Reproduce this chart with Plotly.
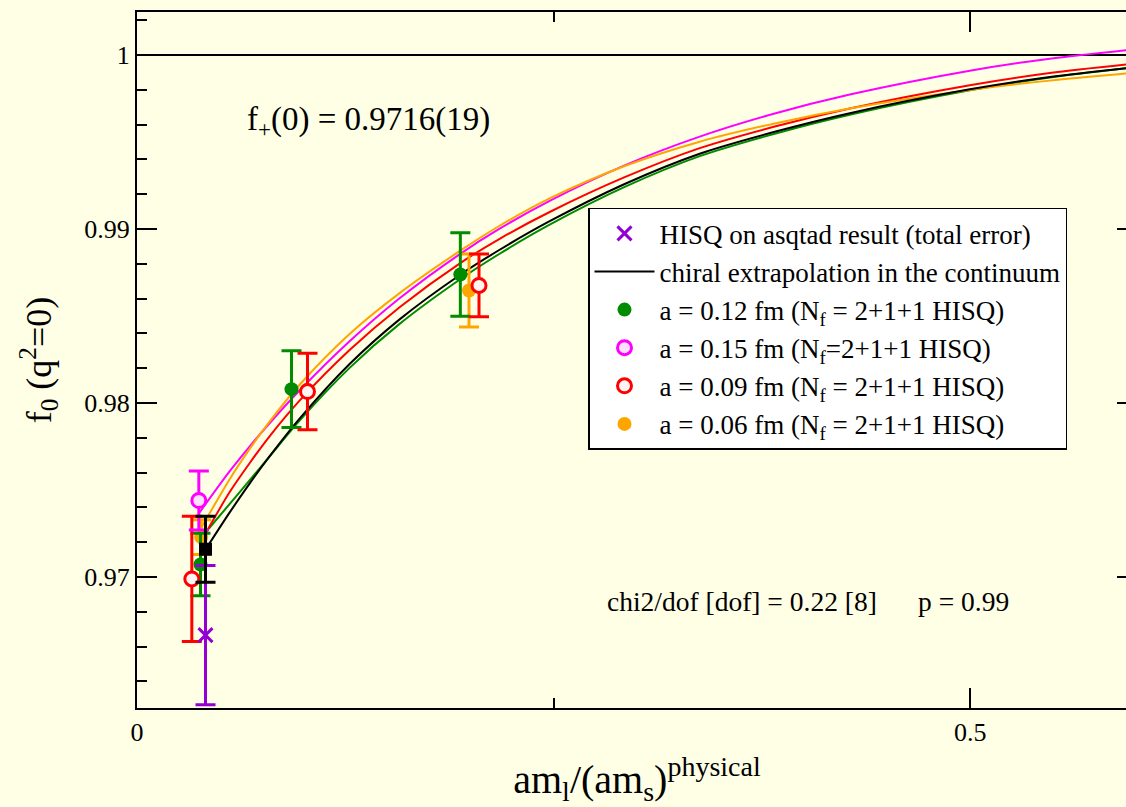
import plotly.graph_objects as go

# ---------------- data ----------------
# continuum chiral extrapolation (black) and per-lattice-spacing fit curves
curve_black_x = [0.04112, 0.05552, 0.06753, 0.07953, 0.09754, 0.12755, 0.15756, 0.19418, 0.21759,
                 0.24760, 0.29262, 0.33763, 0.38265, 0.42767, 0.49970, 0.54772, 0.60000]
curve_black_y = [0.97158, 0.97370, 0.97537, 0.97693, 0.97910, 0.98224, 0.98481, 0.98739, 0.98881,
                 0.99045, 0.99259, 0.99433, 0.99559, 0.99666, 0.99803, 0.99874, 0.99931]

curve_green_x = [0.03932, 0.05552, 0.06753, 0.07953, 0.09754, 0.12755, 0.15756, 0.19418, 0.21759,
                 0.24760, 0.29262, 0.33763, 0.38265, 0.42767, 0.49970, 0.54772, 0.60000]
curve_green_y = [0.97236, 0.97419, 0.97556, 0.97693, 0.97899, 0.98202, 0.98455, 0.98713, 0.98858,
                 0.99025, 0.99242, 0.99419, 0.99548, 0.99657, 0.99797, 0.99871, 0.99931]

curve_red_x = [0.03752, 0.05552, 0.06753, 0.07953, 0.09754, 0.12755, 0.15756, 0.19418, 0.21759,
               0.24760, 0.29262, 0.33763, 0.38265, 0.42767, 0.49970, 0.54772, 0.60000]
curve_red_y = [0.97190, 0.97487, 0.97654, 0.97809, 0.98014, 0.98305, 0.98551, 0.98806, 0.98944,
               0.99098, 0.99298, 0.99465, 0.99589, 0.99693, 0.99827, 0.99897, 0.99952]

curve_magenta_x = [0.03752, 0.05552, 0.06753, 0.07953, 0.09754, 0.12755, 0.15756, 0.19418, 0.21759,
                   0.24760, 0.29262, 0.33763, 0.38265, 0.42767, 0.49970, 0.54772, 0.60000]
curve_magenta_y = [0.97371, 0.97607, 0.97750, 0.97884, 0.98072, 0.98355, 0.98602, 0.98859, 0.99002,
                   0.99162, 0.99366, 0.99531, 0.99664, 0.99773, 0.99910, 0.99979, 1.00034]

curve_orange_x = [0.03529, 0.05552, 0.06753, 0.07953, 0.09754, 0.12755, 0.15756, 0.19418, 0.21759,
                  0.24760, 0.29262, 0.33763, 0.38265, 0.42767, 0.49970, 0.54772, 0.60000]
curve_orange_y = [0.97229, 0.97561, 0.97735, 0.97893, 0.98105, 0.98397, 0.98632, 0.98877, 0.99019,
                  0.99176, 0.99362, 0.99502, 0.99607, 0.99693, 0.99799, 0.99853, 0.99899]

# lattice data points
hisq_asqtad_x = [0.0411]
hisq_asqtad_y = [0.96666]
hisq_asqtad_err = [0.0040]

phys_x = [0.0411]
phys_y = [0.9716]
phys_err = [0.0019]

a012_x = [0.0381, 0.0927, 0.1940]
a012_y = [0.97072, 0.98080, 0.98739]
a012_err = [0.0018, 0.0022, 0.0024]

a015_x = [0.0371]
a015_y = [0.97440]
a015_err = [0.0017]

a009_x = [0.0329, 0.1023, 0.2052]
a009_y = [0.96989, 0.98066, 0.98676]
a009_err = [0.0036, 0.0022, 0.0018]

a006_x = [0.0385, 0.1992]
a006_y = [0.97230, 0.98647]
a006_err = [0.0010, 0.0021]

FONT = "Liberation Serif"
BG = "#FFFFE6"
GREEN = "#008B00"
PURPLE = "#9400D3"

fig = go.Figure()

# fit curves (no legend except the continuum one)
for cx, cy, col, name, show, rank in [
    (curve_green_x, curve_green_y, GREEN, "g", False, 100),
    (curve_red_x, curve_red_y, "#FF0000", "r", False, 100),
    (curve_magenta_x, curve_magenta_y, "#FF00FF", "m", False, 100),
    (curve_orange_x, curve_orange_y, "#FFA500", "o", False, 100),
    (curve_black_x, curve_black_y, "black", "chiral extrapolation in the continuum", True, 2),
]:
    fig.add_trace(go.Scatter(
        x=cx, y=cy, mode="lines", name=name, showlegend=show, legendrank=rank,
        line=dict(color=col, width=2, shape="spline", smoothing=0.8),
        hoverinfo="skip"))


def pts(x, y, err, name, marker, ecol, rank, show=True):
    fig.add_trace(go.Scatter(
        x=x, y=y, mode="markers", name=name, showlegend=show, legendrank=rank,
        marker=marker,
        error_y=dict(type="data", array=err, visible=True, color=ecol, thickness=3, width=10)))


pts(a006_x, a006_y, a006_err, "a = 0.06 fm (N<sub>f</sub> = 2+1+1 HISQ)",
    dict(symbol="circle", size=14, color="#FFA500", line=dict(width=0)), "#FFA500", 6)
pts(a012_x, a012_y, a012_err, "a = 0.12 fm (N<sub>f</sub> = 2+1+1 HISQ)",
    dict(symbol="circle", size=14, color=GREEN, line=dict(width=0)), GREEN, 3)
pts(a009_x, a009_y, a009_err, "a = 0.09 fm (N<sub>f</sub> = 2+1+1 HISQ)",
    dict(symbol="circle", size=14, color="#FFF4F4", line=dict(color="#FF0000", width=3)), "#FF0000", 5)
pts(a015_x, a015_y, a015_err, "a = 0.15 fm (N<sub>f</sub>=2+1+1 HISQ)",
    dict(symbol="circle", size=14, color="#FFE0FF", line=dict(color="#FF00FF", width=3)), "#FF00FF", 4)
pts(hisq_asqtad_x, hisq_asqtad_y, hisq_asqtad_err, "HISQ on asqtad result (total error)",
    dict(symbol="x-thin", size=14, color=PURPLE, line=dict(color=PURPLE, width=3)), PURPLE, 1)
pts(phys_x, phys_y, phys_err, "continuum",
    dict(symbol="square", size=13, color="black"), "black", 100, show=False)

YR = [0.962474, 1.002474]
XR = [0.0, 0.6]

fig.update_layout(
    width=1150, height=807,
    margin=dict(l=137, r=13, t=10, b=97),
    paper_bgcolor=BG, plot_bgcolor=BG,
    font=dict(family=FONT, color="black", size=26),
    xaxis=dict(range=XR, tick0=0, dtick=0.5, ticks="inside", ticklen=20, tickwidth=2,
               tickcolor="black", showline=True, linecolor="black", linewidth=2,
               mirror="ticks", showgrid=False, zeroline=False,
               minor=dict(dtick=0.25, ticks="inside", ticklen=10, tickwidth=2, tickcolor="black"),
               tickfont=dict(family=FONT, size=26),
               title=dict(text="am<sub>l</sub>/(am<sub>s</sub>)<sup>physical</sup>",
                          font=dict(family=FONT, size=40), standoff=22)),
    yaxis=dict(range=YR, tickmode="array", tickvals=[0.97, 0.98, 0.99, 1.0],
               ticktext=["0.97", "0.98", "0.99", "1"],
               ticks="inside", ticklen=20, tickwidth=2, tickcolor="black",
               showline=True, linecolor="black", linewidth=2, mirror="ticks",
               showgrid=False, zeroline=False,
               minor=dict(tickvals=[0.964, 0.966, 0.968, 0.972, 0.974, 0.976, 0.978, 0.982, 0.984,
                                    0.986, 0.988, 0.992, 0.994, 0.996, 0.998, 1.002],
                          ticks="inside", ticklen=10, tickwidth=2, tickcolor="black"),
               tickfont=dict(family=FONT, size=26),
               title=dict(text="f<sub>0</sub> (q<sup>2</sup>=0)", font=dict(family=FONT, size=36),
                          standoff=22)),
    legend=dict(x=0.451, y=0.7186, xanchor="left", yanchor="top",
                bgcolor="white", bordercolor="black", borderwidth=1.5,
                font=dict(family=FONT, size=27), itemwidth=60, tracegroupgap=0,
                entrywidth=455, entrywidthmode="pixels",
                traceorder="normal"),
    showlegend=True,
)

# horizontal reference line at f0 = 1
fig.add_shape(type="line", xref="x domain", yref="y", x0=0, x1=1, y0=1.0, y1=1.0,
              line=dict(color="black", width=2), layer="below")

fig.add_annotation(x=0.0645, y=0.9962, xref="x", yref="y", xanchor="left", yanchor="middle",
                   text="f<sub>+</sub>(0) = 0.9716(19)", showarrow=False,
                   font=dict(family=FONT, size=33))
fig.add_annotation(x=0.2806, y=0.96859, xref="x", yref="y", xanchor="left", yanchor="middle",
                   text="chi2/dof [dof] = 0.22 [8]\u00a0\u00a0\u00a0\u00a0\u00a0 p = 0.99", showarrow=False,
                   font=dict(family=FONT, size=27.5))

fig.write_html(
    "out.html",
    config={"displayModeBar": False},
    post_script=("document.documentElement.style.margin='0';"
                 "document.documentElement.style.overflow='hidden';"
                 "document.body.style.margin='0';"
                 "document.body.style.overflow='hidden';"
                 "document.body.style.background='" + BG + "';"),
)
